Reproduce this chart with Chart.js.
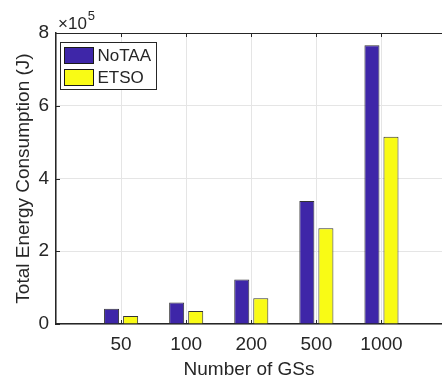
<!DOCTYPE html>
<html>
<head>
<meta charset="utf-8">
<script src="https://cdn.jsdelivr.net/npm/chart.js@4"></script>
<style>
  html, body { margin: 0; padding: 0; background: #fff; overflow: hidden; }
</style>
</head>
<body>
<canvas id="chart" width="442" height="379"></canvas>
<script>
// --- Données ---
const categories = ['50', '100', '200', '500', '1000'];
const noTAA = [42000, 59000, 122000, 338000, 766000];
const etso = [22000, 36000, 71000, 263000, 515000];
const seriesNames = ['NoTAA', 'ETSO'];
const yTicks = [0, 200000, 400000, 600000, 800000];

const FONT = "'Liberation Sans', Arial, Helvetica, sans-serif";
const INK = '#262626';
const COLORS = ['#3E26A8', '#F9FB15'];

const toPoints = vals => vals.map((v, i) => ({ x: i + 1, y: v }));

// cadre du haut, petites graduations, legende et facteur x10^5
const matlabAxes = {
  id: 'matlabAxes',
  afterDraw(chart) {
    const { ctx, chartArea: a, scales } = chart;
    ctx.save();
    ctx.strokeStyle = INK;
    ctx.lineWidth = 1;
    ctx.beginPath();
    ctx.moveTo(a.left, a.top + 0.5);
    ctx.lineTo(a.right, a.top + 0.5);
    categories.forEach((c, i) => {
      const x = Math.round(scales.x.getPixelForValue(i + 1)) + 0.5;
      ctx.moveTo(x, a.bottom);
      ctx.lineTo(x, a.bottom - 4);
      ctx.moveTo(x, a.top);
      ctx.lineTo(x, a.top + 4);
    });
    yTicks.forEach(v => {
      const y = Math.round(scales.y.getPixelForValue(v)) + 0.5;
      ctx.moveTo(a.left, y);
      ctx.lineTo(a.left + 4, y);
    });
    ctx.stroke();

    // facteur d'echelle
    ctx.fillStyle = INK;
    ctx.textBaseline = 'alphabetic';
    ctx.textAlign = 'left';
    ctx.font = '17px ' + FONT;
    ctx.fillText('×10', a.left + 2, 29);
    const w = ctx.measureText('×10').width;
    ctx.font = '13px ' + FONT;
    ctx.fillText('5', a.left + 2 + w + 1, 20);

    // legende
    const lx = a.left + 4.5, ly = a.top + 9.5;
    ctx.fillStyle = '#fff';
    ctx.fillRect(lx, ly, 96, 47);
    ctx.strokeStyle = INK;
    ctx.strokeRect(lx, ly, 96, 47);
    ctx.font = '17px ' + FONT;
    ctx.textBaseline = 'middle';
    seriesNames.forEach((name, i) => {
      const sy = ly + 5 + i * 22;
      ctx.fillStyle = COLORS[i];
      ctx.fillRect(lx + 4, sy, 29, 16);
      ctx.strokeStyle = '#1a1a1a';
      ctx.strokeRect(lx + 4, sy, 29, 16);
      ctx.fillStyle = INK;
      ctx.fillText(name, lx + 37, sy + 9);
    });
    ctx.restore();
  }
};

new Chart(document.getElementById('chart'), {
  type: 'bar',
  data: {
    datasets: [noTAA, etso].map((vals, i) => ({
      label: seriesNames[i],
      data: toPoints(vals),
      backgroundColor: COLORS[i],
      borderColor: '#333333',
      borderWidth: 1,
      categoryPercentage: 0.585,
      barPercentage: 0.79
    }))
  },
  options: {
    responsive: false,
    animation: false,
    layout: { padding: { top: 33, right: 0, left: 0, bottom: 0 } },
    plugins: { legend: { display: false }, tooltip: { enabled: false } },
    scales: {
      x: {
        type: 'linear',
        min: 0,
        max: 5.93,
        offset: false,
        afterFit: s => { s.height = 55; },
        afterBuildTicks: s => { s.ticks = [0, 1, 2, 3, 4, 5].map(v => ({ value: v })); },
        ticks: {
          autoSkip: false,
          maxRotation: 0,
          padding: 9,
          color: INK,
          font: { family: FONT, size: 19 },
          callback: v => categories[v - 1] || ''
        },
        grid: { color: '#e5e5e5', drawTicks: false, offset: false },
        border: { color: INK, width: 1.5 },
        title: {
          display: true,
          text: 'Number of GSs',
          color: INK,
          font: { family: FONT, size: 19 },
          padding: { top: 2, bottom: -2 }
        }
      },
      y: {
        min: 0,
        max: 800000,
        afterFit: s => { s.width = 56; },
        afterBuildTicks: s => { s.ticks = yTicks.map(v => ({ value: v })); },
        ticks: {
          padding: 7,
          color: INK,
          font: { family: FONT, size: 19 },
          callback: v => String(v / 100000)
        },
        grid: { color: '#e5e5e5', drawTicks: false },
        border: { color: INK, width: 1.5 },
        title: {
          display: true,
          text: 'Total Energy Consumption (J)',
          color: INK,
          font: { family: FONT, size: 19 },
          padding: { top: 12, bottom: 0 }
        }
      }
    }
  },
  plugins: [matlabAxes]
});
</script>
</body>
</html>
